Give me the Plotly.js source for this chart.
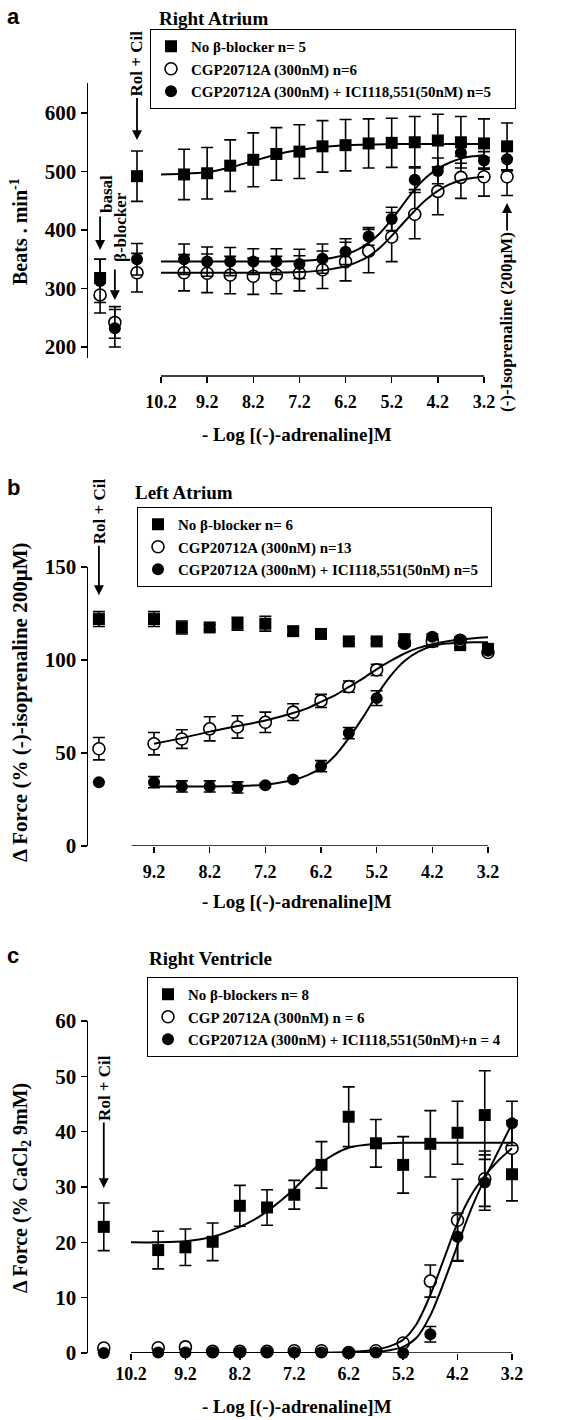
<!DOCTYPE html>
<html><head><meta charset="utf-8">
<script src="https://cdn.plot.ly/plotly-3.0.1.min.js"></script>
<style>html,body{margin:0;padding:0;background:#fff}</style>
</head><body><div id="chart" style="width:579px;height:1420px"></div>
<script>
// ---------------- DATA ----------------
// Panel a : Right Atrium (Beats . min-1)
const xA_basal = 11.52, xA_block = 11.2, xA_rol = 10.72, xA_iso = 2.7;
const xA_conc = [9.7, 9.2, 8.7, 8.2, 7.7, 7.2, 6.7, 6.2, 5.7, 5.2, 4.7, 4.2, 3.7, 3.2];
const sqA     = [318, 492, 495, 497, 510, 520, 530, 534, 543, 545, 548, 549, 550, 553, 550, 548, 543]; // basal, rol, conc..., iso
const sqA_err = [32, 43, 43, 44, 44, 46, 45, 46, 44, 44, 42, 42, 44, 45, 44, 42, 40];
const opA     = [289, 242, 327, 327, 326, 323, 321, 323, 326, 332, 346, 364, 388, 427, 466, 490, 491, 491]; // basal, block, rol, conc..., iso
const opA_err = [31, 27, 33, 31, 33, 32, 31, 32, 30, 32, 33, 37, 42, 42, 40, 36, 33, 32];
const fiA     = [313, 232, 350, 350, 346, 346, 346, 346, 342, 351, 363, 389, 419, 486, 501, 532, 519, 521];
const fiA_err = [37, 32, 27, 26, 25, 24, 22, 22, 25, 25, 22, 15, 20, 22, 22, 18, 15, 20];
const xA_fit1 = [10.2, 9.7, 9.2, 8.7, 8.2, 7.7, 7.2, 6.7, 6.2, 5.7, 5.2, 4.7, 4.2, 3.7, 3.2];
const sqA_fit = [495, 496, 499, 507, 518, 529, 537, 542, 545, 546, 547, 547, 547, 547, 547];
const xA_fit2 = [10.2, 9.7, 9.2, 8.7, 8.2, 7.7, 7.2, 6.7, 6.45, 6.2, 5.95, 5.7, 5.45, 5.2, 4.95, 4.7, 4.45, 4.2, 3.95, 3.7, 3.45, 3.2];
const fiA_fit = [346, 346, 346, 346, 346, 346, 347, 350, 353, 358, 366, 378, 395, 418, 444, 470, 490, 505, 515, 522, 526, 528];
const opA_fit = [327, 327, 327, 327, 327, 327, 328, 331, 334, 338, 345, 355, 370, 390, 412, 433, 452, 467, 478, 485, 489, 491];
const xTicksA = [10.2, 9.2, 8.2, 7.2, 6.2, 5.2, 4.2, 3.2];
const yTicksA = [200, 300, 400, 500, 600];

// Panel b : Left Atrium
const xB_rol = 10.19;
const xB_conc = [9.2, 8.7, 8.2, 7.7, 7.2, 6.7, 6.2, 5.7, 5.2, 4.7, 4.2, 3.7, 3.2];
const sqB     = [122, 122, 117.5, 117.5, 119.5, 119.5, 115.5, 114, 110, 110, 111, 110, 108, 106];
const sqB_err = [4, 4, 3.5, 1.5, 3.5, 4, 2, 1.5, 1.5, 1.5, 3, 1.5, 1.5, 1.5];
const opB     = [52.3, 55, 57.5, 63, 64, 66.5, 72, 78, 85.7, 94.7, 109, 110, 110.5, 104];
const opB_err = [6, 6, 5, 6.5, 6, 5.5, 4.5, 3.5, 3, 3, 1.5, 1.5, 1.5, 1.5];
const fiB     = [34.3, 34.3, 32, 32, 31.5, 32.7, 35.7, 42.9, 60.7, 79.5, 109, 112.5, 111, 105];
const fiB_err = [0, 3, 3, 3, 3, 1, 1, 3, 3, 4, 1.5, 1.5, 1.5, 1.5];
const xB_fit  = [9.2, 8.7, 8.2, 7.7, 7.2, 6.7, 6.45, 6.2, 5.95, 5.7, 5.45, 5.2, 4.95, 4.7, 4.45, 4.2, 3.95, 3.7, 3.45, 3.2];
const opB_fit = [55, 58, 61.5, 64.5, 67.5, 71.5, 74, 77.5, 81, 85.5, 90, 95, 99.5, 103.5, 106.5, 108.5, 110, 111, 111.7, 112.2];
const fiB_fit = [32, 32, 32, 32.2, 33, 35.5, 38, 42, 48.5, 58, 69, 81, 91.5, 99.5, 104.5, 107.5, 108.8, 109.3, 109.5, 109.6];
const xTicksB = [9.2, 8.2, 7.2, 6.2, 5.2, 4.2, 3.2];
const xLineStartB = 9.6;
const yTicksB = [0, 50, 100, 150];

// Panel c : Right Ventricle
const xC_rol = 10.70;
const xC_conc = [9.7, 9.2, 8.7, 8.2, 7.7, 7.2, 6.7, 6.2, 5.7, 5.2, 4.7, 4.2, 3.7, 3.2];
const sqC     = [22.8, 18.6, 19.1, 20.1, 26.6, 26.3, 28.6, 34, 42.7, 37.9, 34, 37.8, 39.8, 43, 32.3];
const sqC_err = [4.3, 3.4, 3.3, 3.4, 3.7, 3.2, 2.6, 4.2, 5.4, 4.3, 5.1, 6, 5.7, 8, 4.8];
const opC     = [0.9, 0.95, 1.1, 0.3, 0.3, 0.3, 0.4, 0.4, 0.1, 0.4, 1.8, 13, 24, 31.5, 37];
const opC_err = [0, 0, 0, 0, 0, 0, 0, 0, 0, 0, 0, 2.9, 7.4, 5, 5];
const fiC     = [0, 0.1, 0.1, 0.1, 0.1, 0.1, 0.1, 0.1, 0.1, 0.1, 0, 3.4, 21, 30.8, 41.5];
const fiC_err = [0, 0, 0, 0, 0, 0, 0, 0, 0, 0, 0, 1.4, 4.3, 5, 4];
const xC_fit1 = [10.2, 9.7, 9.2, 8.7, 8.2, 7.95, 7.7, 7.45, 7.2, 6.95, 6.7, 6.45, 6.2, 5.7, 5.2, 4.7, 4.2, 3.7, 3.2];
const sqC_fit = [20, 20, 20.2, 21, 22.8, 24, 25.6, 27.5, 29.7, 32.2, 34.4, 36, 37.1, 37.8, 38, 38, 38, 38, 38];
const xC_fit2 = [10.2, 9.2, 8.2, 7.2, 6.2, 5.7, 5.45, 5.2, 4.95, 4.7, 4.45, 4.2, 3.95, 3.7, 3.45, 3.2];
const opC_fit = [0, 0, 0, 0, 0.2, 0.6, 1.2, 2.4, 5.3, 10.5, 17, 23.5, 28.5, 32, 34.8, 37];
const fiC_fit = [0, 0, 0, 0, 0, 0.2, 0.5, 1.1, 2.8, 6.8, 12.8, 19.5, 26, 31.5, 36.5, 41.5];
const xTicksC = [10.2, 9.2, 8.2, 7.2, 6.2, 5.2, 4.2, 3.2];
const yTicksC = [0, 10, 20, 30, 40, 50, 60];

const namesA = ['No β-blocker n= 5', 'CGP20712A (300nM) n=6', 'CGP20712A (300nM) + ICI118,551(50nM) n=5'];
const namesB = ['No β-blocker n= 6', 'CGP20712A (300nM) n=13', 'CGP20712A (300nM) + ICI118,551(50nM) n=5'];
const namesC = ['No β-blockers n= 8', 'CGP 20712A (300nM) n = 6', 'CGP20712A (300nM) + ICI118,551(50nM)+n = 4'];

// ---------------- STYLE / HELPERS ----------------
const W = 579, H = 1420;
const SERIF = 'Liberation Serif, Times New Roman, serif';
const fx = p => p / W, fy = p => 1 - p / H;
const bold = (size) => ({family: SERIF, size: size, color: '#000', weight: 'bold'});
const pad = (s, n) => s + '\u00a0'.repeat(n);   // right padding inside legend box

function markers(x, y, err, kind, name, xa, ya, leg) {
  const m = {size: 12, color: '#000', symbol: kind === 'sq' ? 'square' : 'circle', line: {color: '#000', width: 0}};
  if (kind === 'open') { m.color = '#fff'; m.line = {color: '#000', width: 1.6}; }
  return {type: 'scatter', mode: 'markers', x: x, y: y, name: name, xaxis: xa, yaxis: ya, legend: leg,
    marker: m, cliponaxis: false, hoverinfo: 'skip',
    error_y: {type: 'data', array: err, visible: true, color: '#000', thickness: 1.6, width: 6}};
}
function curve(x, y, xa, ya) {
  return {type: 'scatter', mode: 'lines', x: x, y: y, xaxis: xa, yaxis: ya, showlegend: false, hoverinfo: 'skip',
    line: {color: '#000', width: 2, shape: 'spline', smoothing: 0.8}};
}

const xAsq = [xA_basal, xA_rol].concat(xA_conc, [xA_iso]);
const xAci = [xA_basal, xA_block, xA_rol].concat(xA_conc, [xA_iso]);
const xBall = [xB_rol].concat(xB_conc);
const xCall = [xC_rol].concat(xC_conc);

const data = [
  markers(xAsq, sqA, sqA_err, 'sq', namesA[0], 'x', 'y', 'legend'),
  markers(xAci, opA, opA_err, 'open', namesA[1], 'x', 'y', 'legend'),
  markers(xAci, fiA, fiA_err, 'fill', pad(namesA[2], 5), 'x', 'y', 'legend'),
  curve(xA_fit1, sqA_fit, 'x', 'y'),
  curve(xA_fit2, opA_fit, 'x', 'y'),
  curve(xA_fit2, fiA_fit, 'x', 'y'),

  markers(xBall, sqB, sqB_err, 'sq', namesB[0], 'x2', 'y2', 'legend2'),
  markers(xBall, opB, opB_err, 'open', namesB[1], 'x2', 'y2', 'legend2'),
  markers(xBall, fiB, fiB_err, 'fill', pad(namesB[2], 2), 'x2', 'y2', 'legend2'),
  curve(xB_fit, opB_fit, 'x2', 'y2'),
  curve(xB_fit, fiB_fit, 'x2', 'y2'),

  markers(xCall, sqC, sqC_err, 'sq', namesC[0], 'x3', 'y3', 'legend3'),
  markers(xCall, opC, opC_err, 'open', namesC[1], 'x3', 'y3', 'legend3'),
  markers(xCall, fiC, fiC_err, 'fill', pad(namesC[2], 3), 'x3', 'y3', 'legend3'),
  curve(xC_fit1, sqC_fit, 'x3', 'y3'),
  curve(xC_fit2, opC_fit, 'x3', 'y3'),
  curve(xC_fit2, fiC_fit, 'x3', 'y3')
];

function xAxis(domain, range, tickvals, extra) {
  return Object.assign({domain: domain, range: range, tickvals: tickvals, tickformat: '.1f',
    ticks: 'outside', ticklen: 6, tickwidth: 1.5, tickcolor: '#000', showline: false, showgrid: false,
    zeroline: false, tickfont: bold(18), fixedrange: true}, extra);
}
function yAxis(domain, range, tickvals, anchor) {
  return {domain: domain, range: range, tickvals: tickvals, anchor: anchor,
    ticks: 'outside', ticklen: 6, tickwidth: 1.5, tickcolor: '#000', showline: true, linewidth: 1.5,
    linecolor: '#000', showgrid: false, zeroline: false, tickfont: bold(21), fixedrange: true};
}
function legendBox(px, py) {
  return {x: fx(px), y: fy(py), xanchor: 'left', yanchor: 'top', bgcolor: '#fff', bordercolor: '#000',
    borderwidth: 1, font: bold(15), itemwidth: 30, traceorder: 'normal', tracegroupgap: 0};
}
function txt(text, px, py, size, extra) {
  return Object.assign({text: text, xref: 'paper', yref: 'paper', x: fx(px), y: fy(py), showarrow: false,
    font: bold(size), xanchor: 'center', yanchor: 'middle'}, extra || {});
}
function arrow(text, xref, yref, x, y, ay, extra) {
  return Object.assign({text: text, xref: xref, yref: yref, x: x, y: y, ax: 0, ay: ay, showarrow: true,
    arrowhead: 2, arrowsize: 1.1, arrowwidth: 1.8, arrowcolor: '#000', textangle: -90, font: bold(17)}, extra || {});
}
const SANS = {family: 'Liberation Sans, Arial, sans-serif', size: 22, color: '#000', weight: 'bold'};

const annotations = [
  // panel a
  txt('a', 13, 17, 22, {font: SANS}),
  txt('Right Atrium', 157, 19, 19, {xanchor: 'left'}),
  txt('Beats . min<sup>-1</sup>', 19, 232, 20, {textangle: -90}),
  txt('- Log [(-)-adrenaline]M', 297, 435, 19),
  arrow('Rol + Cil', 'x', 'y', xA_rol, 553.8, -76.5),
  txt('basal', 106, 194, 17, {textangle: -90}),
  arrow('', 'x', 'y', xA_basal, 365.8, -35),
  txt('β-blocker', 120, 227, 17, {textangle: -90}),
  arrow('', 'x', 'y', xA_block, 280.3, -32),
  arrow('(-)-Isoprenaline (200µM)', 'x', 'y', xA_iso, 446.2, 119),
  // panel b
  txt('b', 13, 487, 22, {font: SANS}),
  txt('Left Atrium', 133, 492, 19, {xanchor: 'left'}),
  txt('Δ Force (% (-)-isoprenaline 200µM)', 20, 702, 21, {textangle: -90}),
  txt('- Log [(-)-adrenaline]M', 297, 902, 19),
  arrow('Rol + Cil', 'x2', 'y2', xB_rol, 134.8, -84),
  // panel c
  txt('c', 13, 955, 22, {font: SANS}),
  txt('Right Ventricle', 147, 958, 19, {xanchor: 'left'}),
  txt('Δ Force (% CaCl<sub>2</sub> 9mM)', 21, 1188, 20, {textangle: -90}),
  txt('- Log [(-)-adrenaline]M', 297, 1407, 19),
  arrow('Rol + Cil', 'x3', 'y3', xC_rol, 29.8, -100)
];

const shapes = [
  {type: 'line', xref: 'x', yref: 'paper', x0: xTicksA[0], x1: xTicksA[xTicksA.length - 1], y0: fy(376), y1: fy(376), line: {color: '#000', width: 1.5}},
  {type: 'line', xref: 'x2', yref: 'y2', x0: xLineStartB, x1: xTicksB[xTicksB.length - 1], y0: 0, y1: 0, line: {color: '#000', width: 1.5}},
  {type: 'line', xref: 'x3', yref: 'y3', x0: xTicksC[0], x1: xTicksC[xTicksC.length - 1], y0: 0, y1: 0, line: {color: '#000', width: 1.5}}
];

const layout = {
  width: W, height: H, margin: {l: 0, r: 0, t: 0, b: 0}, paper_bgcolor: '#fff', plot_bgcolor: 'rgba(0,0,0,0)',
  showlegend: true, font: {family: SERIF, color: '#000'},
  xaxis: xAxis([fx(88), fx(525)], [11.782, 2.311], xTicksA, {anchor: 'free', position: fy(376), ticklabelstandoff: 3}),
  yaxis: yAxis([fy(358), fy(83)], [181.2, 651.3], yTicksA, 'x'),
  xaxis2: xAxis([fx(88), fx(525)], [10.386, 2.535], xTicksB, {anchor: 'y2', ticklabelstandoff: 3}),
  yaxis2: yAxis([fy(846), fy(567)], [0, 150], yTicksB, 'x2'),
  xaxis3: xAxis([fx(88), fx(535)], [10.99, 2.777], xTicksC, {anchor: 'y3', ticklabelstandoff: -2}),
  yaxis3: yAxis([fy(1353), fy(1021)], [0, 60], yTicksC, 'x3'),
  legend: legendBox(150, 29),
  legend2: legendBox(137, 507),
  legend3: legendBox(147, 977),
  annotations: annotations,
  shapes: shapes
};

Plotly.newPlot('chart', data, layout, {staticPlot: true, displayModeBar: false});
</script></body></html>
